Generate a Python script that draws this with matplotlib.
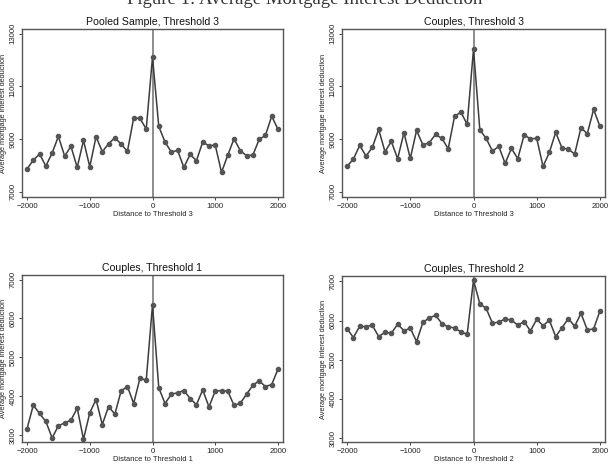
import numpy as np
import matplotlib
matplotlib.use('Agg')
import matplotlib.pyplot as plt

plt.rcParams['font.family'] = ['Liberation Sans', 'DejaVu Sans']

# distance to threshold, bins of 100
dist = np.arange(-2000, 2001, 100)

pooled_t3 = [7861, 8203, 8430, 7975, 8468, 9101, 8354, 8722, 7924, 8949, 7949,
             9089, 8519, 8823, 9051, 8810, 8532, 9797, 9785, 9380, 12114,
             9481, 8886, 8506, 8570, 7924, 8418, 8177, 8886, 8747, 8772,
             7734, 8392, 9013, 8557, 8367, 8392, 8987, 9139, 9873, 9367]
couples_t3 = [7962, 8240, 8759, 8354, 8684, 9367, 8519, 8911, 8253, 9241, 8266,
              9329, 8772, 8861, 9177, 9025, 8633, 9861, 10025, 9557, 12418,
              9354, 9025, 8544, 8722, 8076, 8646, 8253, 9152, 9013, 9025,
              7962, 8494, 9253, 8658, 8620, 8430, 9430, 9203, 10127, 9481]
couples_t1 = [3159, 3768, 3554, 3348, 2927, 3236, 3313, 3382, 3691, 2893, 3571,
              3914, 3270, 3734, 3536, 4137, 4249, 3811, 4464, 4412, 6352,
              4215, 3811, 4052, 4086, 4146, 3940, 3777, 4163, 3725, 4129,
              4146, 4129, 3760, 3820, 4052, 4283, 4395, 4249, 4300, 4695]
couples_t2 = [5797, 5568, 5856, 5847, 5881, 5593, 5703, 5678, 5907, 5746, 5805,
              5466, 5958, 6068, 6136, 5924, 5839, 5814, 5712, 5653, 7034,
              6432, 6314, 5932, 5966, 6042, 6017, 5881, 5975, 5737, 6034,
              5873, 6008, 5593, 5822, 6051, 5856, 6186, 5763, 5788, 6246]

panels = [
    ('Pooled Sample, Threshold 3', 'Distance to Threshold 3', pooled_t3,
     [7000, 9000, 11000, 13000], (6800, 13180)),
    ('Couples, Threshold 3', 'Distance to Threshold 3', couples_t3,
     [7000, 9000, 11000, 13000], (6800, 13180)),
    ('Couples, Threshold 1', 'Distance to Threshold 1', couples_t1,
     [3000, 4000, 5000, 6000, 7000], (2820, 7120)),
    ('Couples, Threshold 2', 'Distance to Threshold 2', couples_t2,
     [3000, 4000, 5000, 6000, 7000], (2900, 7140)),
]

# axes boxes in pixels: left, top, right, bottom
W, H = 610, 471
boxes = [(22, 29, 283, 197), (342, 29, 605, 197),
         (22, 275, 283, 442), (342, 276, 605, 442)]

fig = plt.figure(figsize=(W / 100, H / 100), dpi=100)
fig.text(0.5, 1 - 4 / H, 'Figure 1: Average Mortgage Interest Deduction',
         ha='center', va='baseline', fontsize=13.5, family='Liberation Serif',
         color='#333333')

line_c = '#3c3c3c'
for (title, xlab, vals, yt, yl), (l, t, r, b) in zip(panels, boxes):
    ax = fig.add_axes([l / W, 1 - b / H, (r - l) / W, (b - t) / H])
    ax.axvline(0, color='#8c8c8c', lw=1.4, zorder=1)
    ax.plot(dist, vals, color=line_c, lw=1.1, marker='o', ms=3.0,
            markerfacecolor='#555555', markeredgecolor='#555555', zorder=2)
    ax.set_xlim(-2080, 2080)
    ax.set_ylim(*yl)
    ax.set_xticks([-2000, -1000, 0, 1000, 2000])
    ax.set_yticks(yt)
    ax.set_yticklabels([str(v) for v in yt], rotation=90, va='center')
    ax.tick_params(labelsize=5.6, length=2.5, width=0.7, color='#444444',
                   labelcolor='#222222', pad=1.5)
    ax.set_title(title, fontsize=7.6, pad=3, color='#111111')
    ax.set_xlabel(xlab, fontsize=5.4, labelpad=1, color='#222222')
    ax.set_ylabel('Average mortgage interest deduction', fontsize=5.3,
                  labelpad=1.5, color='#222222')
    for s in ax.spines.values():
        s.set_color('#555555')
        s.set_linewidth(1.0)

fig.savefig('out.png', dpi=100)
